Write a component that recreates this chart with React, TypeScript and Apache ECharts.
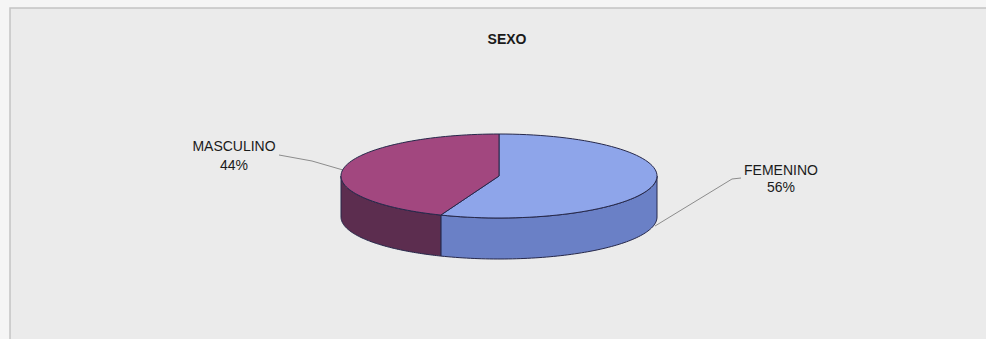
import { useEffect, useRef } from "react";
import * as echarts from "echarts";

const categories = ["FEMENINO", "MASCULINO"];
const values = [56, 44];
const percentLabels = ["56%", "44%"];
const topColors = ["#8ea5ea", "#a2477f"];
const sideColors = ["#6a80c6", "#5c2d4f"];
const titleText = "SEXO";

export default function App() {
  const ref = useRef<HTMLDivElement>(null);
  useEffect(() => {
    const chart = echarts.init(ref.current!, null, { renderer: "svg" });
    const total = values.reduce((a, b) => a + b, 0);
    const starts: number[] = [];
    let acc = 0;
    values.forEach((v) => {
      starts.push((acc / total) * 2 * Math.PI);
      acc += v;
    });
    const CX = 499, CY = 176, RX = 158, RY = 42, DEPTH = 41;
    const pt = (t: number, dy = 0) => [CX + RX * Math.sin(t), CY - RY * Math.cos(t) + dy];
    const arc = (a: number, b: number, dy = 0, n = 80) => {
      const pts: number[][] = [];
      for (let i = 0; i <= n; i++) pts.push(pt(a + ((b - a) * i) / n, dy));
      return pts;
    };
    const labelLayout = [
      { tx: 781, ty1: 170, ty2: 187, line: [[741, 178], [732, 179], [655, 226]] },
      { tx: 234, ty1: 146, ty2: 165, line: [[279, 155], [312, 161], [343, 170]] },
    ];
    const edge = "#26284a";
    const renderItem = (params: any, api: any) => {
      const i = params.dataIndex;
      const v = api.value(1);
      const a = starts[i];
      const b = a + (v / total) * 2 * Math.PI;
      const children: any[] = [];
      const s = Math.max(a, Math.PI / 2);
      const e = Math.min(b, (3 * Math.PI) / 2);
      if (e > s) {
        const pts = arc(s, e, 0).concat(arc(e, s, DEPTH));
        children.push({
          type: "polygon",
          z2: 1,
          shape: { points: pts },
          style: { fill: sideColors[i], stroke: edge, lineWidth: 1 },
        });
      }
      children.push({
        type: "polygon",
        z2: 5,
        shape: { points: [[CX, CY]].concat(arc(a, b, 0)) },
        style: { fill: topColors[i], stroke: edge, lineWidth: 1 },
      });
      const L = labelLayout[i];
      children.push({
        type: "polyline",
        z2: 0,
        shape: { points: L.line },
        style: { stroke: "#8c8c8c", lineWidth: 1, fill: "none" },
      });
      children.push({
        type: "text",
        z2: 6,
        style: {
          text: categories[i],
          x: L.tx,
          y: L.ty1,
          fill: "#1a1a1a",
          font: "14px 'Liberation Sans', Arial, sans-serif",
          align: "center",
          verticalAlign: "middle",
        },
      });
      children.push({
        type: "text",
        z2: 6,
        style: {
          text: percentLabels[i],
          x: L.tx,
          y: L.ty2,
          fill: "#1a1a1a",
          font: "14px 'Liberation Sans', Arial, sans-serif",
          align: "center",
          verticalAlign: "middle",
        },
      });
      return { type: "group", children };
    };
    chart.setOption({
      animation: false,
      backgroundColor: "#f5f5f5",
      title: {
        text: titleText,
        left: 502,
        textAlign: "center",
        top: 27,
        textStyle: { fontFamily: "'Liberation Sans', Arial, sans-serif", fontSize: 14, fontWeight: "bold", color: "#1a1a1a" },
      },
      graphic: [
        {
          type: "rect",
          z: -10,
          silent: true,
          shape: { x: 10, y: 8, width: 985, height: 345 },
          style: { fill: "#ebebeb", stroke: "#c4c4c4", lineWidth: 1.5 },
        },
      ],
      series: [
        {
          type: "custom",
          coordinateSystem: "none",
          renderItem,
          data: values.map((v, i) => ({ name: categories[i], value: [i, v] })),
        },
      ],
    });
    return () => chart.dispose();
  }, []);
  return (
    <div style={{ position: "absolute", left: 0, top: 0, width: 986, height: 339 }}>
      <div ref={ref} style={{ width: 986, height: 339 }} />
    </div>
  );
}
